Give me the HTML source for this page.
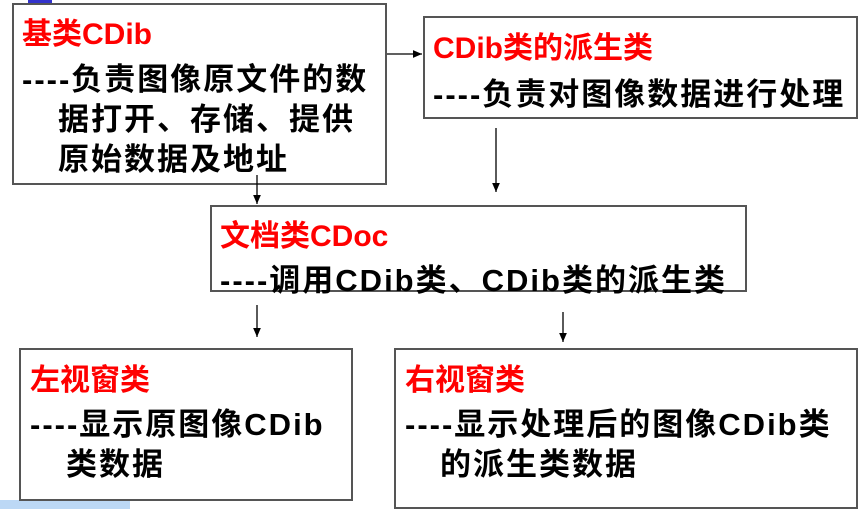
<!DOCTYPE html>
<html><head><meta charset="utf-8"><style>
body{margin:0;width:868px;height:509px;background:#fff;position:relative;overflow:hidden;font-family:"Liberation Sans","Noto Sans CJK SC",sans-serif;font-weight:bold}
.b{position:absolute;border:2px solid #555;box-sizing:border-box;background:#fff}
.t{position:absolute;white-space:nowrap;font-weight:bold}
.r{color:#f00;font-size:30px}
.k{color:#000;font-size:31px;letter-spacing:2px}
</style></head><body>
<div style="position:absolute;left:28px;top:0;width:24px;height:3px;background:#33c"></div>
<div style="position:absolute;left:0;top:500px;width:130px;height:9px;background:#bcd8f5"></div>
<div class="b" style="left:12px;top:3px;width:375px;height:182px"></div>
<div class="b" style="left:423px;top:16px;width:435px;height:103px"></div>
<div class="b" style="left:210px;top:205px;width:537px;height:87px"></div>
<div class="b" style="left:19px;top:348px;width:334px;height:153px"></div>
<div class="b" style="left:394px;top:348px;width:464px;height:161px"></div>
<svg style="position:absolute;left:0;top:0" width="868" height="509">
<defs><marker id="a" markerWidth="8" markerHeight="8" refX="7" refY="4" orient="auto"><path d="M0,1 L7,4 L0,7z" fill="#000"/></marker></defs>
<g stroke="#000" stroke-width="1.3" marker-end="url(#a)">
<line x1="387" y1="54" x2="422" y2="54"/>
<line x1="257" y1="175" x2="257" y2="204"/>
<line x1="496" y1="128" x2="496" y2="192"/>
<line x1="257" y1="305" x2="257" y2="337"/>
<line x1="563" y1="312" x2="563" y2="342"/>
</g></svg>
<div class="t r" style="left:22px;top:9px">基类CDib</div>
<div class="t k" style="left:22px;top:54px">----负责图像原文件的数</div>
<div class="t k" style="left:58px;top:94px">据打开、存储、提供</div>
<div class="t k" style="left:58px;top:134px">原始数据及地址</div>
<div class="t r" style="left:433px;top:23px">CDib类的派生类</div>
<div class="t k" style="left:433px;top:69px">----负责对图像数据进行处理</div>
<div class="t r" style="left:220px;top:211px">文档类CDoc</div>
<div class="t k" style="left:220px;top:255px">----调用CDib类、CDib类的派生类</div>
<div class="t r" style="left:30px;top:355px">左视窗类</div>
<div class="t k" style="left:30px;top:399px">----显示原图像CDib</div>
<div class="t k" style="left:66px;top:439px">类数据</div>
<div class="t r" style="left:405px;top:355px">右视窗类</div>
<div class="t k" style="left:405px;top:399px">----显示处理后的图像CDib类</div>
<div class="t k" style="left:440px;top:439px">的派生类数据</div>
</body></html>
